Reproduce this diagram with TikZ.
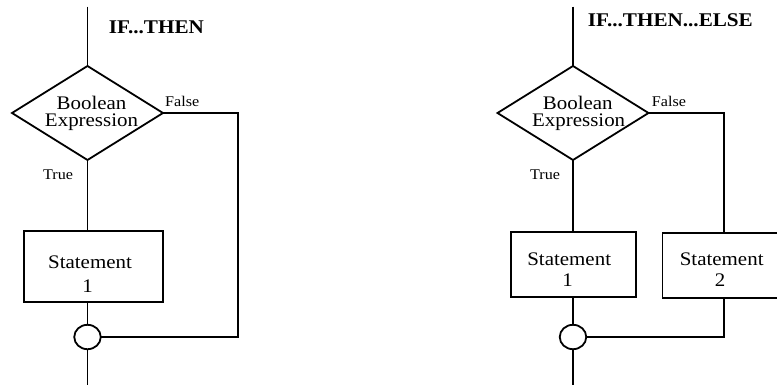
\documentclass[tikz,border=0pt]{standalone}
\usepackage{fontspec}
\setmainfont{Liberation Serif}[FakeStretch=1.09]
\usetikzlibrary{shapes.geometric}
\begin{document}
\begin{tikzpicture}[x=1pt,y=-1pt,line width=1.8pt,
  decision/.style={diamond,draw,minimum width=151pt,minimum height=94pt,inner sep=0pt,outer sep=0pt},
  stmt/.style={rectangle,draw,inner sep=0pt,outer sep=0pt},
  joint/.style={ellipse,draw,minimum width=26.5pt,minimum height=24.4pt,inner sep=0pt,outer sep=0pt},
  bigtxt/.style={inner sep=0pt,anchor=base,font=\fontsize{19.2}{19.2}\selectfont},
  smalltxt/.style={inner sep=0pt,anchor=base west,font=\fontsize{14.8}{14.8}\selectfont},
  title/.style={inner sep=0pt,anchor=base west,font=\fontsize{19.4}{19.4}\selectfont\bfseries}]
\useasboundingbox (0,0) rectangle (777,385);
\clip (0,0) rectangle (777,385);

% ---------- IF...THEN ----------
\coordinate (a0) at (87.5,6.7);
\coordinate (aend) at (87.5,385);
\node[decision] (ad) at (87.5,113) {};
\node[bigtxt] (adt1) at (91.5,109.3) {Boolean};
\node[bigtxt] (adt2) at (91.5,126.7) {Expression};
\node[stmt,minimum width=139pt,minimum height=71pt] (as) at (93.8,266.5) {};
\node[bigtxt] (ast1) at (90,268.3) {Statement};
\node[bigtxt] (ast2) at (87.7,292.3) {1};
\node[joint] (aj) at (87.5,337) {};
\coordinate (af) at (238,113);
\node[title] (atitle) at (108,33.3) {IF...THEN};
\node[smalltxt] (afalse) at (164.3,106.7) {False};
\node[smalltxt] (atrue) at (42.3,179) {True};

\draw (a0) -- (ad.north);
\draw (ad.south) -- (ad.south |- as.north);
\draw (ad.south |- as.south) -- (aj.north);
\draw (aj.south) -- (aend);
\draw (ad.east) -- (af) -- (af |- aj.east) -- (aj.east);

% ---------- IF...THEN...ELSE ----------
\coordinate (b0) at (573,6.7);
\coordinate (bend) at (573,385);
\node[decision] (bd) at (573,113) {};
\node[bigtxt] (bdt1) at (577.8,109.3) {Boolean};
\node[bigtxt] (bdt2) at (578.7,126.7) {Expression};
\node[stmt,minimum width=125pt,minimum height=65pt] (bs1) at (573.5,264.5) {};
\node[bigtxt] (bs1t1) at (569.2,265) {Statement};
\node[bigtxt] (bs1t2) at (567.7,286.7) {1};
\node[stmt,minimum width=124pt,minimum height=65.6pt] (bs2) at (724.5,265.5) {};
\node[bigtxt] (bs2t1) at (721.7,265) {Statement};
\node[bigtxt] (bs2t2) at (720,286.7) {2};
\node[joint] (bj) at (573,337) {};
\coordinate (bf) at (724,113);
\node[title] (btitle) at (587,26.7) {IF...THEN...ELSE};
\node[smalltxt] (bfalse) at (651,106.7) {False};
\node[smalltxt] (btrue) at (529.3,179) {True};

\draw (b0) -- (bd.north);
\draw (bd.south) -- (bd.south |- bs1.north);
\draw (bd.south |- bs1.south) -- (bj.north);
\draw (bj.south) -- (bend);
\draw (bd.east) -- (bf) -- (bf |- bs2.north);
\draw (bf |- bs2.south) -- (bf |- bj.east) -- (bj.east);
\end{tikzpicture}
\end{document}
